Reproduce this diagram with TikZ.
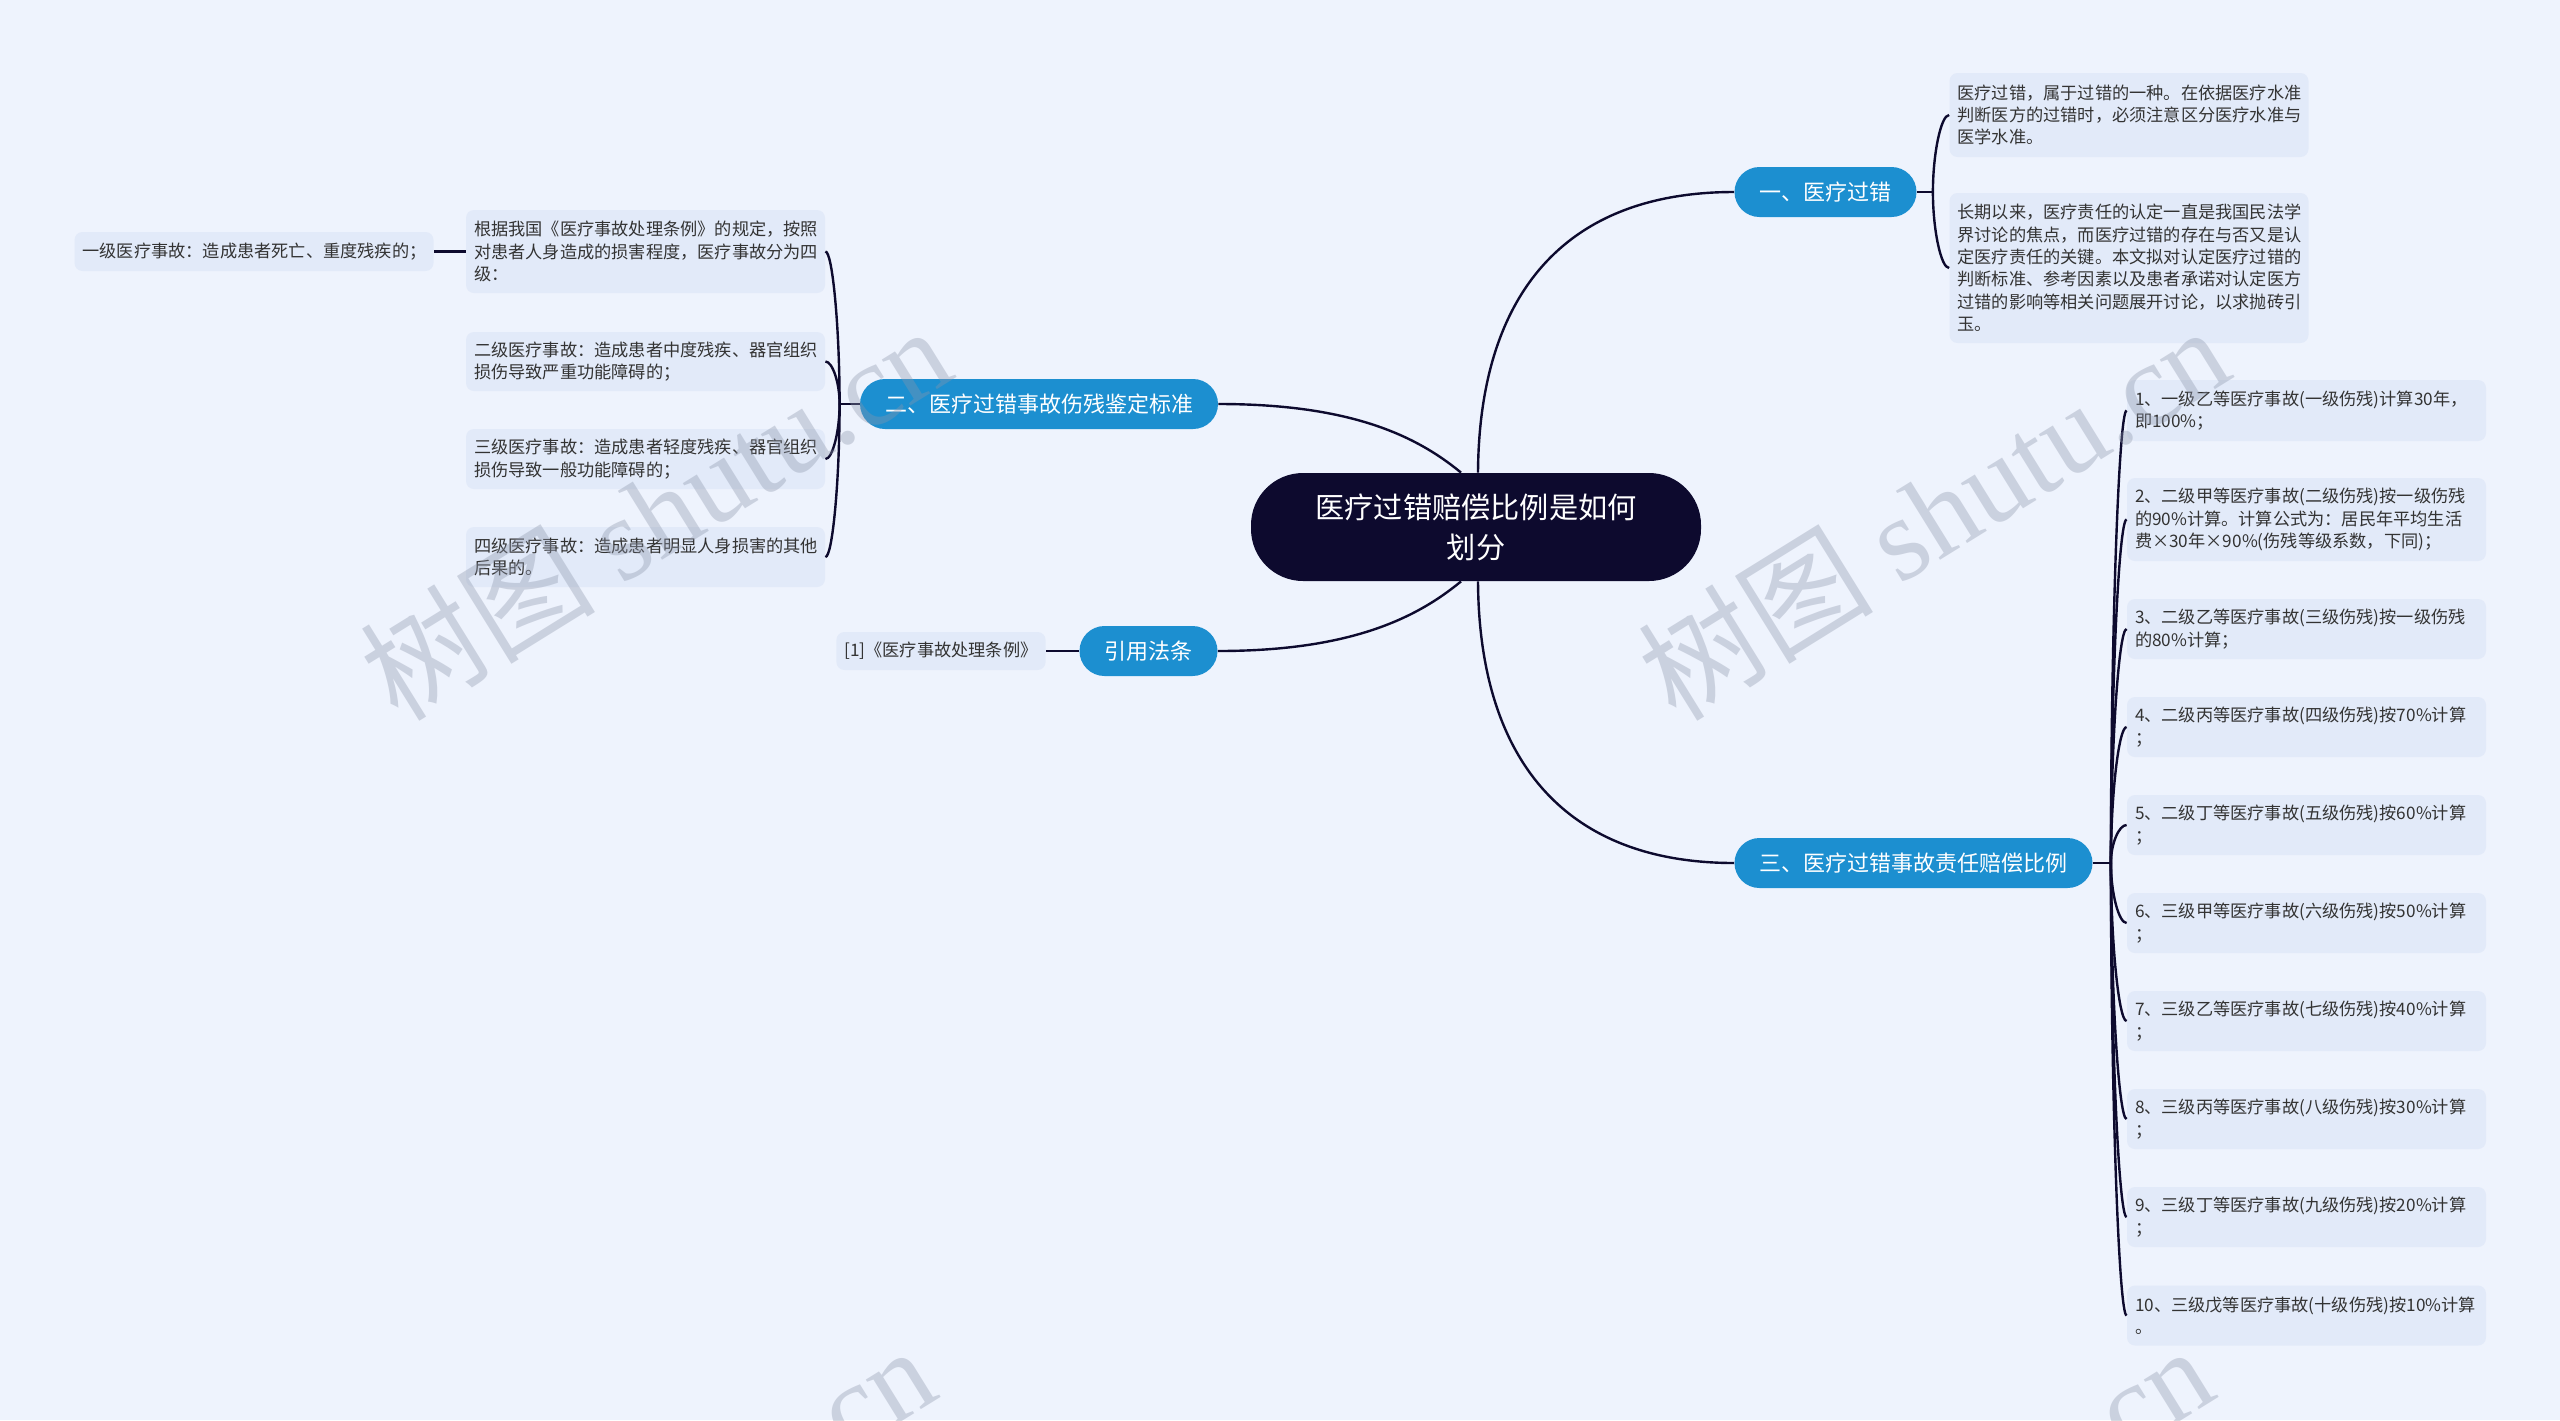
\documentclass[tikz,border=0pt]{standalone}
\usepackage{fontspec}
\setmainfont{Noto Sans CJK SC}
\newfontfamily\wmlatin{Liberation Serif}
\usetikzlibrary{calc}
\definecolor{bg}{HTML}{EEF3FD}
\definecolor{leaf}{HTML}{E2EAF9}
\definecolor{branch}{HTML}{1C8FD0}
\definecolor{rootc}{HTML}{0D0A2E}
\definecolor{linec}{HTML}{0D0A2E}
\definecolor{txt}{HTML}{333333}
\definecolor{wmc}{HTML}{8C95AA}
\tikzset{
  leafbox/.style={fill=leaf, rounded corners=4pt, text width=171.5pt, inner xsep=4pt, inner ysep=0pt, align=left, text=txt, font=\fontsize{8.6pt}{11.2pt}\selectfont},
  branchbox/.style={fill=branch, text=white, rounded corners=12.5pt, minimum height=25pt, inner xsep=12.5pt, inner ysep=0pt, font=\fontsize{11pt}{13pt}\selectfont},
  rootbox/.style={fill=rootc, text=white, rounded corners=26pt, minimum width=225pt, minimum height=54pt, inner sep=0pt, align=center, font=\fontsize{14.6pt}{20pt}\selectfont},
  citebox/.style={fill=leaf, rounded corners=4pt, minimum width=104.5pt, minimum height=19pt, inner xsep=4pt, inner ysep=0pt, text=txt, font=\fontsize{8.6pt}{11.2pt}\selectfont},
  conn/.style={draw=linec, line width=1.2pt},
  wmark/.style={rotate=31.8, text=wmc, text opacity=0.36, font=\fontsize{59pt}{59pt}\selectfont}
}
\begin{document}
\begin{tikzpicture}[x=0.5pt,y=-0.5pt]
\fill[bg] (0,0) rectangle (2560,1420);
\useasboundingbox (0,0) rectangle (2560,1420);

% root
\node[rootbox] (root) at (1476,527) {医疗过错赔偿比例是如何\\划分};

% branches
\node[branchbox] (b1) at (1825.5,192) {一、医疗过错};
\node[branchbox] (b2) at (1039,404) {二、医疗过错事故伤残鉴定标准};
\node[branchbox] (b3) at (1913.5,863) {三、医疗过错事故责任赔偿比例};
\node[branchbox] (b4) at (1148.5,651) {引用法条};

% branch 1 leaves
\node[leafbox, minimum height=42pt] (a1) at (2129,115) {医疗过错，属于过错的一种。在依据医疗水准\\判断医方的过错时，必须注意区分医疗水准与\\医学水准。};
\node[leafbox, minimum height=75pt] (a2) at (2129,268) {长期以来，医疗责任的认定一直是我国民法学\\界讨论的焦点，而医疗过错的存在与否又是认\\定医疗责任的关键。本文拟对认定医疗过错的\\判断标准、参考因素以及患者承诺对认定医方\\过错的影响等相关问题展开讨论，以求抛砖引\\玉。};

% branch 2 leaves
\node[leafbox, minimum height=41.5pt] (l1) at (645.5,251.5) {根据我国《医疗事故处理条例》的规定，按照\\对患者人身造成的损害程度，医疗事故分为四\\级：};
\node[leafbox, minimum height=29.5pt] (l2) at (645.5,361.5) {二级医疗事故：造成患者中度残疾、器官组织\\损伤导致严重功能障碍的；};
\node[leafbox, minimum height=30pt] (l3) at (645.5,459) {三级医疗事故：造成患者轻度残疾、器官组织\\损伤导致一般功能障碍的；};
\node[leafbox, minimum height=30pt] (l4) at (645.5,557) {四级医疗事故：造成患者明显人身损害的其他\\后果的。};
\node[leafbox, minimum height=19.5pt] (l0) at (254,251.5) {一级医疗事故：造成患者死亡、重度残疾的；};

% branch 3 leaves
\node[leafbox, minimum height=30.5pt] (r1) at (2306.5,410.5) {1、一级乙等医疗事故(一级伤残)计算30年，\\即100\%；};
\node[leafbox, minimum height=41.5pt] (r2) at (2306.5,519.5) {2、二级甲等医疗事故(二级伤残)按一级伤残\\的90\%计算。计算公式为：居民年平均生活\\费×30年×90\%(伤残等级系数，下同)；};
\node[leafbox, minimum height=30pt] (r3) at (2306.5,629) {3、二级乙等医疗事故(三级伤残)按一级伤残\\的80\%计算；};
\node[leafbox, minimum height=30pt] (r4) at (2306.5,727) {4、二级丙等医疗事故(四级伤残)按70\%计算\\；};
\node[leafbox, minimum height=30pt] (r5) at (2306.5,825) {5、二级丁等医疗事故(五级伤残)按60\%计算\\；};
\node[leafbox, minimum height=30pt] (r6) at (2306.5,923) {6、三级甲等医疗事故(六级伤残)按50\%计算\\；};
\node[leafbox, minimum height=30pt] (r7) at (2306.5,1021) {7、三级乙等医疗事故(七级伤残)按40\%计算\\；};
\node[leafbox, minimum height=30pt] (r8) at (2306.5,1119) {8、三级丙等医疗事故(八级伤残)按30\%计算\\；};
\node[leafbox, minimum height=30pt] (r9) at (2306.5,1217) {9、三级丁等医疗事故(九级伤残)按20\%计算\\；};
\node[leafbox, minimum height=30pt] (r10) at (2306.5,1315.5) {10、三级戊等医疗事故(十级伤残)按10\%计算\\。};

% branch 4 leaf
\node[citebox] (c1) at (941,651) {[1]《医疗事故处理条例》};

% root connectors
\coordinate (rtr) at ($(root.north)+(2,0)$);
\coordinate (rtl) at ($(root.north)+(-15,0)$);
\coordinate (rbr) at ($(root.south)+(2,0)$);
\coordinate (rbl) at ($(root.south)+(-15,0)$);
\draw[conn] (rtr) .. controls +(1,-173) and +(-174,0) .. (b1.west);
\draw[conn] (rbr) .. controls +(1,173) and +(-174,0) .. (b3.west);
\draw[conn] (b2.east) .. controls +(130,0) and +(-46,-38) .. (rtl);
\draw[conn] (b4.east) .. controls +(130,0) and +(-46,38) .. (rbl);

% branch 1 bracket
\coordinate (j1) at ($(b1.east)+(16,0)$);
\draw[conn] (b1.east) -- (j1);
\foreach \n in {a1,a2}{
  \coordinate (k) at (j1 |- \n.west);
  \draw[conn] (j1) .. controls ($(j1)!0.5!(k)$) and ($(k)!0.5!(\n.west)$) .. (\n.west);
}

% branch 3 bracket
\coordinate (j3) at ($(b3.east)+(18,0)$);
\draw[conn] (b3.east) -- (j3);
\foreach \n in {r1,r2,r3,r4,r5,r6,r7,r8,r9,r10}{
  \coordinate (k) at (j3 |- \n.west);
  \draw[conn] (j3) .. controls ($(j3)!0.5!(k)$) and ($(k)!0.5!(\n.west)$) .. (\n.west);
}

% branch 2 bracket
\coordinate (j2) at ($(b2.west)+(-20,0)$);
\draw[conn] (b2.west) -- (j2);
\foreach \n in {l1,l2,l3,l4}{
  \coordinate (k) at (j2 |- \n.east);
  \draw[conn] (j2) .. controls ($(j2)!0.5!(k)$) and ($(k)!0.5!(\n.east)$) .. (\n.east);
}

% single-child connectors
\draw[conn] (l1.west) -- (l0.east);
\draw[conn] (b4.west) -- (c1.east);

% watermarks
\begin{scope}
\clip (0,0) rectangle (2560,1420);
\node[wmark] (wm1) at (655,512) {树图 {\wmlatin shutu.cn}};
\node[wmark] (wm2) at (1933,512) {树图 {\wmlatin shutu.cn}};
\node[wmark] (wm3) at (639,1532) {树图 {\wmlatin shutu.cn}};
\node[wmark] (wm4) at (1917,1532) {树图 {\wmlatin shutu.cn}};
\end{scope}
\end{tikzpicture}
\end{document}
